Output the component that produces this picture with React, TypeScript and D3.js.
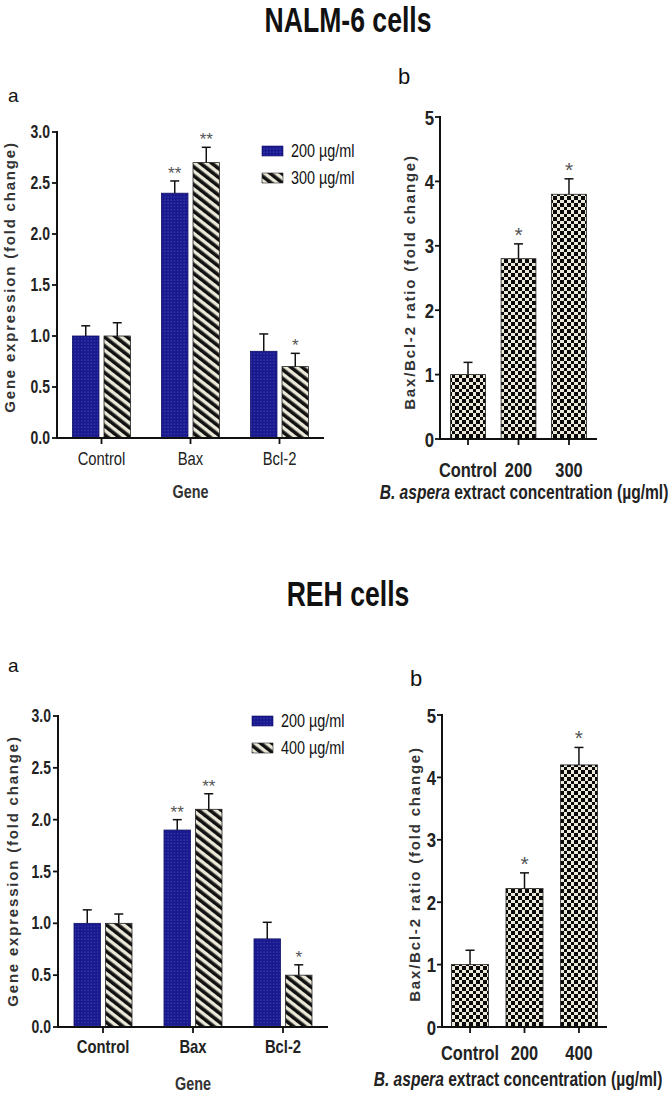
import React from "react";
import * as d3 from "d3";

// ---------- DATA ----------
const titles = ["NALM-6 cells", "REH cells"];

const geneCategories = ["Control", "Bax", "Bcl-2"];

// NALM-6 (a)
const nalmSeries = ["200 µg/ml", "300 µg/ml"];
const nalm200Means = [1.0, 2.4, 0.85];
const nalm200Upper = [1.1, 2.52, 1.02];
const nalm300Means = [1.0, 2.7, 0.7];
const nalm300Upper = [1.13, 2.85, 0.83];
const nalm200Sig = ["", "**", ""];
const nalm300Sig = ["", "**", "*"];

// NALM-6 (b)
const nalmRatioCategories = ["Control", "200", "300"];
const nalmRatioMeans = [1.0, 2.8, 3.8];
const nalmRatioUpper = [1.19, 3.03, 4.04];
const nalmRatioSig = ["", "*", "*"];

// REH (a)
const rehSeries = ["200 µg/ml", "400 µg/ml"];
const reh200Means = [1.0, 1.9, 0.85];
const reh200Upper = [1.13, 2.0, 1.01];
const reh400Means = [1.0, 2.1, 0.5];
const reh400Upper = [1.09, 2.25, 0.6];
const reh200Sig = ["", "**", ""];
const reh400Sig = ["", "**", "*"];

// REH (b)
const rehRatioCategories = ["Control", "200", "400"];
const rehRatioMeans = [1.0, 2.22, 4.2];
const rehRatioUpper = [1.23, 2.47, 4.48];
const rehRatioSig = ["", "*", "*"];

const geneTicks = [0, 0.5, 1.0, 1.5, 2.0, 2.5, 3.0];
const ratioTicks = [0, 1, 2, 3, 4, 5];

// ---------- STYLE ----------
const FONT = "'Liberation Sans', Arial, sans-serif";
const INK = "#111";
const STAR = "#555";
const SQUEEZE = 0.8;

type NTextProps = {
  x: number; y: number; size: number; weight?: number | string; anchor?: string;
  fill?: string; sx?: number; children: React.ReactNode; italic?: boolean;
};

// Condensed text (narrow face emulated by horizontal scaling)
function NText({ x, y, size, weight = "bold", anchor = "start", fill = "#222", sx = SQUEEZE, children }: NTextProps) {
  return (
    <text transform={`translate(${x},${y}) scale(${sx},1)`} textAnchor={anchor} fontFamily={FONT} fontWeight={weight} fontSize={size} fill={fill}>
      {children}
    </text>
  );
}

type GroupedProps = {
  x0: number; x1: number; yTop: number; yBottom: number;
  means: number[][]; upper: number[][]; sigs: string[][]; series: string[];
  legendX: number; legendY: number; legendGap: number;
  catBaseline: number; geneBaseline: number;
  yLabelX: number; yLabelY: number;
  letterX: number; letterY: number;
  catWeight: number;
};

function GroupedPanel(p: GroupedProps) {
  const y = d3.scaleLinear().domain([0, 3]).range([p.yBottom, p.yTop]);
  const x = d3.scaleBand<string>().domain(geneCategories).range([p.x0, p.x1]).padding(0);
  const fills = ["url(#dots)", "url(#hatch)"];
  const strokes = ["#0e0e66", "#222"];
  const pairHalf = 29;
  const inner = d3.scaleBand<number>().domain([0, 1]).range([-pairHalf, pairHalf]).paddingInner(0.16);
  const bw = inner.bandwidth();
  return (
    <g>
      <text x={p.letterX} y={p.letterY} fontFamily={FONT} fontSize={19} fill={INK}>a</text>
      {geneCategories.map((c, i) => {
        const cx = (x(c) as number) + x.bandwidth() / 2;
        return [0, 1].map((s) => {
          const bx = cx + (inner(s) as number);
          const m = p.means[s][i];
          const u = p.upper[s][i];
          const mid = bx + bw / 2;
          return (
            <g key={c + s}>
              <rect x={bx} y={y(m)} width={bw} height={y(0) - y(m)} fill={fills[s]} stroke={strokes[s]} strokeWidth={0.8} />
              <line x1={mid} x2={mid} y1={y(m)} y2={y(u)} stroke={INK} strokeWidth={1.5} />
              <line x1={mid - 4.5} x2={mid + 4.5} y1={y(u)} y2={y(u)} stroke={INK} strokeWidth={1.5} />
              {p.sigs[s][i] && (
                <text x={mid} y={y(u) - 2} textAnchor="middle" fontFamily={FONT} fontSize={17} fill={STAR}>{p.sigs[s][i]}</text>
              )}
            </g>
          );
        });
      })}
      {/* axes */}
      <line x1={p.x0} x2={p.x0} y1={p.yTop - 1} y2={p.yBottom + 1} stroke={INK} strokeWidth={2} />
      <line x1={p.x0 - 1} x2={p.x1} y1={p.yBottom} y2={p.yBottom} stroke={INK} strokeWidth={2} />
      {geneTicks.map((t) => (
        <g key={t}>
          <line x1={p.x0 - 5} x2={p.x0} y1={y(t)} y2={y(t)} stroke={INK} strokeWidth={1.8} />
          <NText x={p.x0 - 7} y={y(t) + 6} size={17.5} anchor="end">{t.toFixed(1)}</NText>
        </g>
      ))}
      {geneCategories.map((c) => {
        const cx = (x(c) as number) + x.bandwidth() / 2;
        return (
          <g key={c}>
            <line x1={cx} x2={cx} y1={p.yBottom} y2={p.yBottom + 6} stroke={INK} strokeWidth={1.8} />
            <NText x={cx} y={p.catBaseline} size={18.5} weight={p.catWeight} anchor="middle">{c}</NText>
          </g>
        );
      })}
      <NText x={(p.x0 + p.x1) / 2} y={p.geneBaseline} size={18} anchor="middle" fill="#333">Gene</NText>
      <text transform={`translate(${p.yLabelX},${p.yLabelY}) rotate(-90)`} textAnchor="middle" fontFamily={FONT} fontWeight="bold" fontSize={15} letterSpacing={1.8} fill="#333">Gene expression (fold change)</text>
      {/* legend */}
      {p.series.map((s, i) => (
        <g key={s}>
          <rect x={p.legendX} y={p.legendY + i * p.legendGap} width={21} height={10} fill={fills[i]} stroke={strokes[i]} strokeWidth={0.6} />
          <NText x={p.legendX + 29} y={p.legendY + i * p.legendGap + 11} size={18} weight="normal" fill={INK}>{s}</NText>
        </g>
      ))}
    </g>
  );
}

type RatioProps = {
  x0: number; x1: number; yTop: number; yBottom: number;
  categories: string[]; means: number[]; upper: number[]; sigs: string[];
  padInner: number; padOuter: number;
  catBaseline: number; xLabelX: number; xLabelBaseline: number;
  yLabelX: number; yLabelY: number; letterX: number; letterY: number;
};

function RatioPanel(p: RatioProps) {
  const y = d3.scaleLinear().domain([0, 5]).range([p.yBottom, p.yTop]);
  const x = d3.scaleBand<string>().domain(p.categories).range([p.x0, p.x1]).paddingInner(p.padInner).paddingOuter(p.padOuter);
  const bw = x.bandwidth();
  return (
    <g>
      <text x={p.letterX} y={p.letterY} fontFamily={FONT} fontSize={22} fill={INK}>b</text>
      {p.categories.map((c, i) => {
        const bx = x(c) as number;
        const m = p.means[i];
        const u = p.upper[i];
        const mid = bx + bw / 2;
        return (
          <g key={c}>
            <rect x={bx} y={y(m)} width={bw} height={y(0) - y(m)} fill="url(#checker)" stroke="#222" strokeWidth={0.8} />
            <line x1={mid} x2={mid} y1={y(m)} y2={y(u)} stroke={INK} strokeWidth={1.5} />
            <line x1={mid - 4.5} x2={mid + 4.5} y1={y(u)} y2={y(u)} stroke={INK} strokeWidth={1.5} />
            {p.sigs[i] && (
              <text x={mid} y={y(u) - 2} textAnchor="middle" fontFamily={FONT} fontSize={21} fill={STAR}>{p.sigs[i]}</text>
            )}
          </g>
        );
      })}
      <line x1={p.x0} x2={p.x0} y1={p.yTop - 1} y2={p.yBottom + 1} stroke={INK} strokeWidth={2} />
      <line x1={p.x0 - 1} x2={p.x1} y1={p.yBottom} y2={p.yBottom} stroke={INK} strokeWidth={2} />
      {ratioTicks.map((t) => (
        <g key={t}>
          <line x1={p.x0 - 5} x2={p.x0} y1={y(t)} y2={y(t)} stroke={INK} strokeWidth={1.8} />
          <NText x={p.x0 - 6} y={y(t) + 7.5} size={21} anchor="end">{t}</NText>
        </g>
      ))}
      {p.categories.map((c) => {
        const cx = (x(c) as number) + bw / 2;
        return (
          <g key={c}>
            <line x1={cx} x2={cx} y1={p.yBottom} y2={p.yBottom + 6} stroke={INK} strokeWidth={1.8} />
            <NText x={cx} y={p.catBaseline} size={20.5} anchor="middle">{c}</NText>
          </g>
        );
      })}
      <NText x={p.xLabelX} y={p.xLabelBaseline} size={19.5} anchor="middle">
        <tspan fontStyle="italic">B. aspera</tspan> extract concentration (µg/ml)
      </NText>
      <text transform={`translate(${p.yLabelX},${p.yLabelY}) rotate(-90)`} textAnchor="middle" fontFamily={FONT} fontWeight="bold" fontSize={15} letterSpacing={1.8} fill="#333">Bax/Bcl-2 ratio (fold change)</text>
    </g>
  );
}

export default function App() {
  return (
    <svg width={672} height={1097} viewBox="0 0 672 1097" style={{ position: "absolute", left: 0, top: 0, background: "#fff" }}>
      <defs>
        <pattern id="dots" patternUnits="userSpaceOnUse" width={3.2} height={3.2}>
          <rect width={3.2} height={3.2} fill="#18188f" />
          <rect x={1.2} y={1.2} width={1} height={1} fill="#5a5abc" />
        </pattern>
        <pattern id="hatch" patternUnits="userSpaceOnUse" width={7} height={7} patternTransform="rotate(-52)">
          <rect width={7} height={7} fill="#ebe8d8" />
          <rect width={3.6} height={7} fill="#111" />
        </pattern>
        <pattern id="checker" patternUnits="userSpaceOnUse" width={7} height={7}>
          <rect width={7} height={7} fill="#ece9da" />
          <rect width={3.5} height={3.5} fill="#0a0a0a" shapeRendering="crispEdges" />
          <rect x={3.5} y={3.5} width={3.5} height={3.5} fill="#0a0a0a" shapeRendering="crispEdges" />
        </pattern>
      </defs>
      <rect width={672} height={1097} fill="#fff" />

      <NText x={348} y={32} size={35} anchor="middle" fill={INK} sx={0.76}>{titles[0]}</NText>
      <NText x={348} y={606} size={35} anchor="middle" fill={INK} sx={0.76}>{titles[1]}</NText>

      <GroupedPanel
        x0={57} x1={324} yTop={132} yBottom={438}
        means={[nalm200Means, nalm300Means]} upper={[nalm200Upper, nalm300Upper]} sigs={[nalm200Sig, nalm300Sig]}
        series={nalmSeries} legendX={262} legendY={146} legendGap={27}
        catBaseline={465} geneBaseline={498} yLabelX={15} yLabelY={277}
        letterX={8} letterY={102} catWeight={400}
      />
      <RatioPanel
        x0={440} x1={597} yTop={117} yBottom={439}
        categories={nalmRatioCategories} means={nalmRatioMeans} upper={nalmRatioUpper} sigs={nalmRatioSig}
        padInner={0.31} padOuter={0.21}
        catBaseline={477} xLabelX={524} xLabelBaseline={499}
        yLabelX={415} yLabelY={282} letterX={398} letterY={84}
      />
      <GroupedPanel
        x0={58} x1={328} yTop={716} yBottom={1027}
        means={[reh200Means, reh400Means]} upper={[reh200Upper, reh400Upper]} sigs={[reh200Sig, reh400Sig]}
        series={rehSeries} legendX={252} legendY={716} legendGap={27}
        catBaseline={1053} geneBaseline={1090} yLabelX={18} yLabelY={871}
        letterX={8} letterY={672} catWeight={700}
      />
      <RatioPanel
        x0={442} x1={607} yTop={715} yBottom={1027}
        categories={rehRatioCategories} means={rehRatioMeans} upper={rehRatioUpper} sigs={rehRatioSig}
        padInner={0.32} padOuter={0.175}
        catBaseline={1060} xLabelX={518} xLabelBaseline={1086}
        yLabelX={420} yLabelY={874} letterX={410} letterY={686}
      />
    </svg>
  );
}
